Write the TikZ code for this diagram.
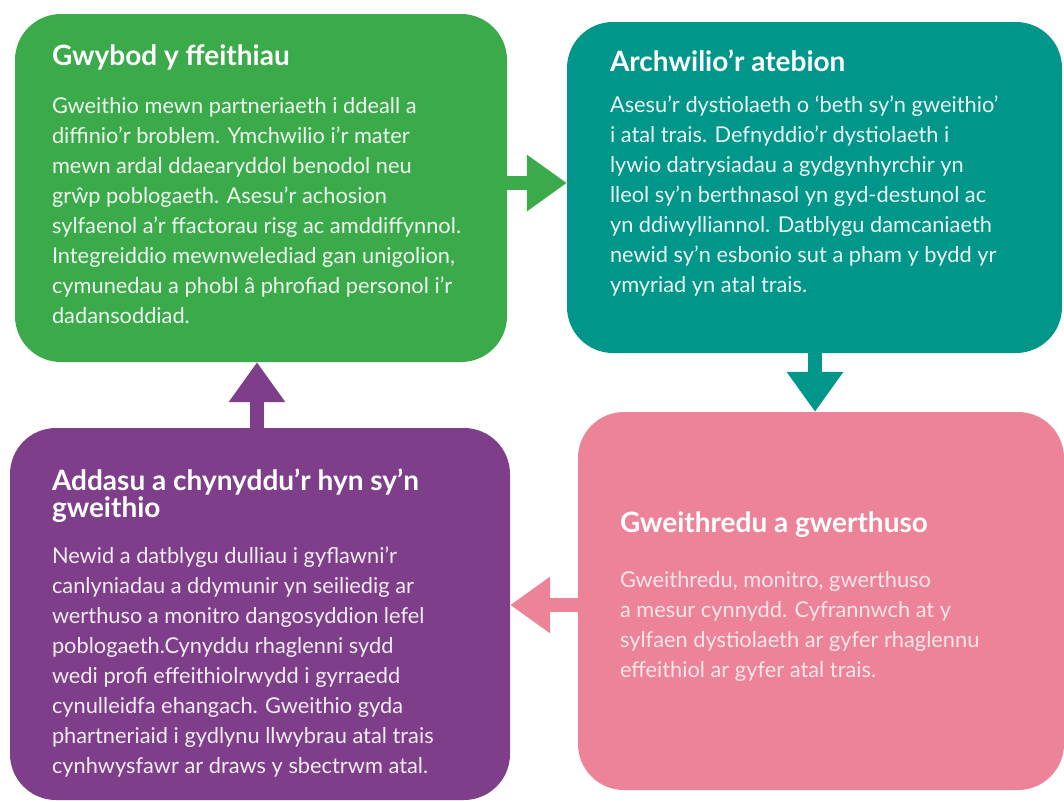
\documentclass[tikz,border=0pt]{standalone}
\usepackage{fontspec}
\setmainfont{Lato}
\usepackage{tikz}
\usetikzlibrary{arrows.meta}
\usetikzlibrary{positioning}

\definecolor{knowgreen}{RGB}{59,170,74}
\definecolor{exploreteal}{RGB}{0,150,137}
\definecolor{adaptpurple}{RGB}{126,62,138}
\definecolor{implementpink}{RGB}{236,131,153}

\tikzset{
  blob/.style={rectangle, rounded corners=46pt, inner sep=0pt},
  boxtitle/.style={inner sep=0pt, align=left, text=white,
    font=\bfseries\fontsize{28}{27}\selectfont},
  boxtext/.style={inner sep=0pt, align=left,
    font=\fontsize{21.8}{30}\selectfont},
  flow/.style={line width=14pt, draw=#1,
    -{Triangle[width=54pt,length=40pt]}},
}

\begin{document}
\begin{tikzpicture}[x=1pt,y=-1pt]
    \useasboundingbox (0,0) rectangle (1064,801);

    % the four stages
    \node [blob, fill=knowgreen, minimum width=492pt, minimum height=348pt] (know) at (261,188) {};
    \node [blob, fill=exploreteal, minimum width=495pt, minimum height=331pt] (explore) at (814.5,187.5) {};
    \node [blob, fill=implementpink, minimum width=486pt, minimum height=378pt] (implement) at (821,601) {};
    \node [blob, fill=adaptpurple, minimum width=500pt, minimum height=372pt] (adapt) at (260,614) {};

    % texts (a strut on the first line fixes the top of each text)
    \node [boxtitle, anchor=base west] (knowtitle) at ([shift={(37,52)}]know.north west) {Gwybod y ffeithiau};
    \node [boxtext, text=white!92!knowgreen, below=26pt of knowtitle.base west, anchor=north west] (knowtext)
      {\strut Gweithio mewn partneriaeth i ddeall a\\
       diffinio’r broblem. Ymchwilio i’r mater\\
       mewn ardal ddaearyddol benodol neu\\
       grŵp poblogaeth. Asesu’r achosion\\
       sylfaenol a’r ffactorau risg ac amddiffynnol.\\
       Integreiddio mewnwelediad gan unigolion,\\
       cymunedau a phobl â phrofiad personol i’r\\
       dadansoddiad.};

    \node [boxtitle, anchor=base west] (exploretitle) at ([shift={(43,50)}]explore.north west) {Archwilio’r atebion};
    \node [boxtext, text=white!92!exploreteal, below=19pt of exploretitle.base west, anchor=north west] (exploretext)
      {\strut Asesu’r dystiolaeth o ‘beth sy’n gweithio’\\
       i atal trais. Defnyddio’r dystiolaeth i\\
       lywio datrysiadau a gydgynhyrchir yn\\
       lleol sy’n berthnasol yn gyd-destunol ac\\
       yn ddiwylliannol. Datblygu damcaniaeth\\
       newid sy’n esbonio sut a pham y bydd yr\\
       ymyriad yn atal trais.};

    \node [boxtitle, anchor=base west] (implementtitle) at ([shift={(42,121)}]implement.north west) {Gweithredu a gwerthuso};
    \node [boxtext, text=white!80!implementpink, below=33pt of implementtitle.base west, anchor=north west] (implementtext)
      {\strut Gweithredu, monitro, gwerthuso\\
       a mesur cynnydd. Cyfrannwch at y\\
       sylfaen dystiolaeth ar gyfer rhaglennu\\
       effeithiol ar gyfer atal trais.};

    \node [boxtitle, anchor=base west] (adapttitle) at ([shift={(42,90)}]adapt.north west)
      {Addasu a chynyddu’r hyn sy’n\\gweithio};
    \node [boxtext, text=white!90!adaptpurple, below=24pt of adapttitle.base west, anchor=north west] (adapttext)
      {\strut Newid a datblygu dulliau i gyflawni’r\\
       canlyniadau a ddymunir yn seiliedig ar\\
       werthuso a monitro dangosyddion lefel\\
       poblogaeth.Cynyddu rhaglenni sydd\\
       wedi profi effeithiolrwydd i gyrraedd\\
       cynulleidfa ehangach. Gweithio gyda\\
       phartneriaid i gydlynu llwybrau atal trais\\
       cynhwysfawr ar draws y sbectrwm atal.};

    % the cycle
    \draw [flow=knowgreen] (know.east |- 0,183) -- (explore.west |- 0,183);
    \draw [flow=exploreteal] (explore.south -| 815,0) -- (implement.north -| 815,0);
    \draw [flow=implementpink] (implement.west |- 0,605) -- (adapt.east |- 0,605);
    \draw [flow=adaptpurple] (adapt.north -| 257,0) -- (know.south -| 257,0);
  \end{tikzpicture}
\end{document}
